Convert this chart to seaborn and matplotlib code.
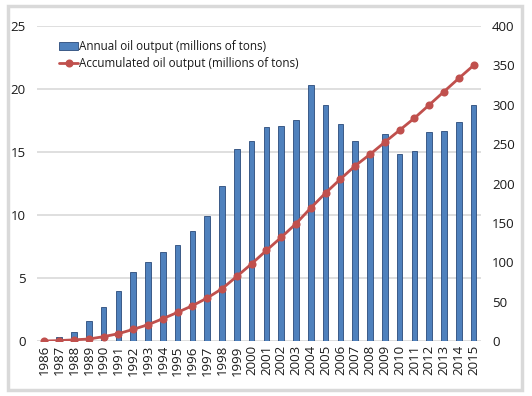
import matplotlib
matplotlib.use('Agg')
import matplotlib.pyplot as plt
import seaborn as sns
import pandas as pd
from matplotlib.patches import Rectangle

# Values
years = [str(y) for y in range(1986, 2016)]
annual_output = [0.0, 0.3, 0.7, 1.55, 2.7, 3.95, 5.5, 6.3, 7.05, 7.65,
                 8.75, 9.95, 12.3, 15.2, 15.85, 17.0, 17.05, 17.55, 20.3, 18.75,
                 17.2, 15.9, 14.9, 16.45, 14.85, 15.05, 16.55, 16.7, 17.35, 18.7]
accumulated_output = [0, 0.5, 1.5, 2.5, 5.5, 9.3, 14.8, 20.7, 28.3, 36.4,
                      44.8, 54.6, 66.4, 82, 98, 115, 131.6, 149, 169, 188,
                      205.6, 222.5, 237, 252.5, 267.7, 283, 299.8, 316.7, 333.6, 350]

df = pd.DataFrame({'year': years, 'annual': annual_output, 'accum': accumulated_output})

sns.set_style('white')
plt.rcParams['font.family'] = ['Open Sans', 'DejaVu Sans']
text_color = '#1a1a1a'
bar_color = '#4F81BD'
line_color = '#C0504D'
fs = 9.5

fig = plt.figure(figsize=(5.32, 3.96), dpi=100)
ax = fig.add_axes([37 / 532, 1 - 341 / 396, 444 / 532, 315 / 396])

sns.barplot(data=df, x='year', y='annual', color=bar_color, width=0.38,
            edgecolor='#2a4a7a', linewidth=0.6, saturation=1,
            label='Annual oil output (millions of tons)', ax=ax)
if ax.get_legend() is not None:
    ax.get_legend().remove()
ax.set_ylim(0, 25)
ax.set_yticks(range(0, 26, 5))
ax.set_xlim(-0.5, 29.5)
ax.yaxis.grid(True, color='#d9d9d9', linewidth=1.2)
ax.set_axisbelow(True)
ax.set_xlabel('')
ax.set_ylabel('')
ax.tick_params(axis='x', rotation=90, labelsize=fs, pad=3, length=0, colors=text_color)
ax.tick_params(axis='y', labelsize=fs, pad=8, length=0, colors=text_color)
for s in ax.spines.values():
    s.set_visible(False)

ax2 = ax.twinx()
sns.pointplot(data=df, x='year', y='accum', color=line_color, markers='o',
              markersize=4.3, linewidth=2, label='Accumulated oil output (millions of tons)',
              ax=ax2)
ax2.set_ylim(0, 400)
ax2.set_yticks(range(0, 401, 50))
ax2.set_xlim(-0.5, 29.5)
ax2.set_ylabel('')
ax2.tick_params(axis='y', labelsize=fs, pad=8, length=0, colors=text_color)
for s in ax2.spines.values():
    s.set_visible(False)

h1, l1 = ax.get_legend_handles_labels()
h2, l2 = ax2.get_legend_handles_labels()
leg = ax2.legend(h1 + h2, l1 + l2, loc='upper left', bbox_to_anchor=(0.04, 0.97),
                 frameon=False, fontsize=8.4, handlelength=1.6, handletextpad=0.05,
                 labelspacing=0.3, borderaxespad=0)
for t in leg.get_texts():
    t.set_color(text_color)

# light gray frame around the chart
fig.patches.append(Rectangle((8 / 532, 6 / 396), 514 / 532, 384 / 396,
                             transform=fig.transFigure, fill=False,
                             edgecolor='#d9d9d9', linewidth=2.5))

fig.savefig('out.png', dpi=100)
